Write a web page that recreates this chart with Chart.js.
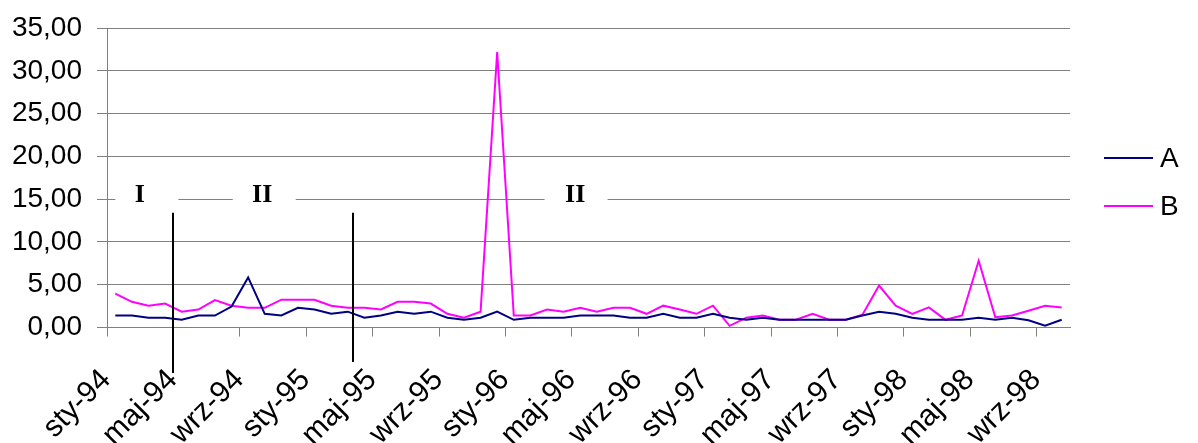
<!DOCTYPE html>
<html lang="pl">
<head>
    <meta charset="UTF-8">
    <title>A i B</title>
    <script src="https://cdn.jsdelivr.net/npm/chart.js"></script>
    <style>
        html, body { margin: 0; padding: 0; background: #fff; }
        .chart-box { width: 1198px; height: 443px; }
    </style>
</head>
<body>
    <div class="chart-box">
        <canvas id="abChart" width="1198" height="443"></canvas>
    </div>
    <script>
        // months Jan 1994 - Oct 1998
        const monthNames = ['sty', 'lut', 'mar', 'kwi', 'maj', 'cze', 'lip', 'sie', 'wrz', 'paź', 'lis', 'gru'];
        const years = ['94', '95', '96', '97', '98'];
        const categories = [];
        years.forEach(function (y) {
            monthNames.forEach(function (m) { categories.push(m + '-' + y); });
        });
        categories.length = 58;

        const seriesA = [
            1.40, 1.40, 1.15, 1.15, 0.90, 1.40, 1.40, 2.45, 5.85, 1.60,
            1.40, 2.30, 2.10, 1.60, 1.85, 1.15, 1.40, 1.85, 1.60, 1.85,
            1.15, 0.90, 1.15, 1.85, 0.90, 1.15, 1.15, 1.15, 1.40, 1.40,
            1.40, 1.15, 1.15, 1.60, 1.15, 1.15, 1.60, 1.15, 0.90, 1.15,
            0.90, 0.90, 0.90, 0.90, 0.90, 1.40, 1.85, 1.60, 1.15, 0.90,
            0.90, 0.90, 1.15, 0.90, 1.15, 0.85, 0.20, 0.90
        ];
        const seriesB = [
            3.95, 3.00, 2.55, 2.80, 1.85, 2.10, 3.20, 2.55, 2.30, 2.30,
            3.25, 3.25, 3.25, 2.55, 2.30, 2.30, 2.10, 3.00, 3.00, 2.80,
            1.60, 1.15, 1.85, 32.20, 1.40, 1.40, 2.10, 1.85, 2.30, 1.85,
            2.30, 2.30, 1.60, 2.55, 2.10, 1.60, 2.55, 0.20, 1.15, 1.40,
            0.90, 0.90, 1.60, 0.90, 0.90, 1.50, 4.90, 2.55, 1.60, 2.35,
            0.90, 1.40, 7.80, 1.20, 1.40, 1.95, 2.55, 2.35
        ];
        const seriesNames = ['A', 'B'];
        const seriesColors = ['#000080', '#FF00FF'];

        // period marks drawn over the 15,00 gridline
        const phaseLabels = ['I', 'II', 'II'];
        const phaseTextAt = [1.47, 8.85, 27.7];
        const phaseBoxAt = [1.87, 8.94, 27.72];
        const phaseLevel = 15;
        const dividersAt = [3.5, 14.33];
        const dividerTop = 13.4;

        const gridGrey = '#808080';

        const overlay = {
            id: 'overlay',
            afterDraw(chart) {
                const ctx = chart.ctx;
                const x = chart.scales.x;
                const y = chart.scales.y;
                const yLevel = y.getPixelForValue(phaseLevel);
                ctx.save();

                // white boxes + roman numerals
                ctx.font = 'bold 26px "Liberation Serif"';
                ctx.textAlign = 'center';
                ctx.textBaseline = 'middle';
                phaseLabels.forEach(function (t, i) {
                    const bx = x.getPixelForValue(phaseBoxAt[i]);
                    ctx.fillStyle = '#fff';
                    ctx.fillRect(bx - 31, yLevel - 14, 63, 28);
                    ctx.fillStyle = '#000';
                    ctx.fillText(t, x.getPixelForValue(phaseTextAt[i]), yLevel - 4);
                });

                // vertical period dividers
                ctx.strokeStyle = '#000';
                ctx.lineWidth = 2;
                const bottoms = [45.5, 34.5];
                dividersAt.forEach(function (v, i) {
                    const px = Math.round(x.getPixelForValue(v));
                    ctx.beginPath();
                    ctx.moveTo(px, y.getPixelForValue(dividerTop));
                    ctx.lineTo(px, chart.chartArea.bottom + bottoms[i]);
                    ctx.stroke();
                });

                // legend
                ctx.font = '28px "Liberation Sans"';
                ctx.textAlign = 'left';
                seriesNames.forEach(function (name, i) {
                    const ly = 158 + i * 48;
                    ctx.strokeStyle = seriesColors[i];
                    ctx.lineWidth = 2;
                    ctx.beginPath();
                    ctx.moveTo(1104, ly);
                    ctx.lineTo(1153, ly);
                    ctx.stroke();
                    ctx.fillStyle = '#000';
                    ctx.fillText(name, 1160, ly + 1);
                });
                ctx.restore();
            }
        };

        const ctx = document.getElementById('abChart').getContext('2d');
        new Chart(ctx, {
            type: 'line',
            data: {
                labels: categories,
                datasets: seriesNames.map(function (name, i) {
                    return {
                        label: name,
                        data: i === 0 ? seriesA : seriesB,
                        borderColor: seriesColors[i],
                        borderWidth: 2,
                        pointRadius: 0,
                        tension: 0,
                        fill: false
                    };
                })
            },
            options: {
                responsive: false,
                animation: false,
                layout: { padding: { top: 28, right: 128, left: 0, bottom: 0 } },
                plugins: {
                    legend: { display: false },
                    tooltip: { enabled: false }
                },
                scales: {
                    x: {
                        offset: true,
                        afterFit: function (s) {
                            s.height = 115.5;
                            s.paddingLeft = 0; s.paddingRight = 0;
                            s.paddingTop = 0; s.paddingBottom = 0;
                        },
                        border: { display: true, color: gridGrey, width: 1 },
                        grid: {
                            offset: true,
                            drawOnChartArea: false,
                            drawTicks: true,
                            tickLength: 9,
                            tickColor: function (c) { return c.index % 4 === 0 ? gridGrey : 'rgba(0,0,0,0)'; }
                        },
                        ticks: {
                            autoSkip: false,
                            maxRotation: 45,
                            minRotation: 45,
                            padding: 26,
                            labelOffset: -9,
                            color: '#000',
                            font: { family: 'Liberation Sans', size: 30 },
                            callback: function (v, i) { return i % 4 === 0 ? categories[i] : ''; }
                        }
                    },
                    y: {
                        min: 0,
                        max: 35,
                        afterFit: function (s) {
                            s.width = 107;
                            s.paddingTop = 0; s.paddingBottom = 0;
                        },
                        border: { display: true, color: gridGrey, width: 1 },
                        grid: { color: gridGrey, lineWidth: 1, tickLength: 10 },
                        ticks: {
                            stepSize: 5,
                            padding: 15,
                            color: '#000',
                            font: { family: 'Liberation Sans', size: 28 },
                            callback: function (v) { return v.toFixed(2).replace('.', ','); }
                        }
                    }
                }
            },
            plugins: [overlay]
        });
    </script>
</body>
</html>
